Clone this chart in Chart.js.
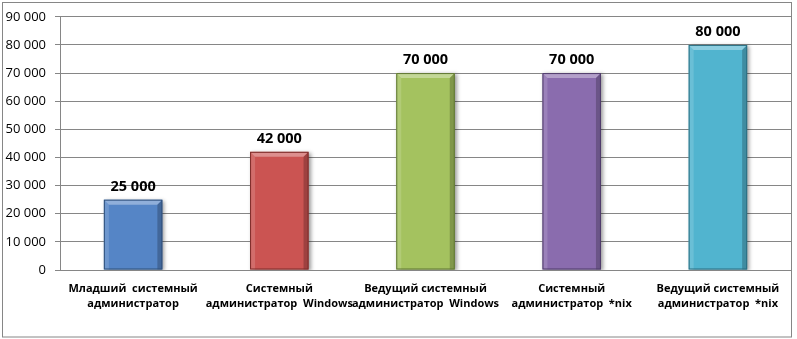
<!DOCTYPE html>
<html>
<head>
<meta charset="utf-8">
<script src="https://cdn.jsdelivr.net/npm/chart.js@4"></script>
<style>
  html, body { margin: 0; padding: 0; background: #fff; }
  #wrap { width: 797px; height: 339px; }
</style>
</head>
<body>
<div id="wrap"><canvas id="salaryChart"></canvas></div>
<script>
'use strict';

const categories = [
    ["Младший  системный", "администратор"],
    ["Системный", "администратор  Windows"],
    ["Ведущий системный", "администратор  Windows"],
    ["Системный", "администратор  *nix"],
    ["Ведущий системный", "администратор  *nix"],
];
const salaries = [25000, 42000, 70000, 70000, 80000];
const barColors = ["#5585c6", "#cb5452", "#a4c25f", "#8a6cae", "#51b4cf"];
const edgeColors = ["#2f507c", "#7e2c2a", "#5f7632", "#4f3b6a", "#2a6f82"];
const yTickMin = 0;
const yTickMax = 90000;
const yTickStep = 10000;

const fmt = (v) => String(v).replace(/\B(?=(\d{3})+(?!\d))/g, " ");

const frame = {
    id: "frame",
    beforeDraw(chart) {
        const c = chart.ctx;
        c.save();
        c.fillStyle = "#fff";
        c.fillRect(0, 0, chart.width, chart.height);
        c.strokeStyle = "#868686";
        c.lineWidth = 1;
        c.strokeRect(2.5, 2.5, 789, 334.5);
        c.restore();
    },
};

const barShadow = {
    id: "barShadow",
    beforeDatasetsDraw(chart) {
        const c = chart.ctx;
        c.save();
        c.shadowColor = "rgba(0,0,0,0.4)";
        c.shadowBlur = 4;
        c.shadowOffsetX = 2;
        c.shadowOffsetY = 1;
    },
    afterDatasetsDraw(chart) {
        const c = chart.ctx;
        c.restore();
        // bevel and value labels
        const meta = chart.getDatasetMeta(0);
        meta.data.forEach((bar, i) => {
            const l = bar.x - bar.width / 2;
            const r = bar.x + bar.width / 2;
            const t = bar.y;
            const b = bar.base;
            const e = 5;
            c.save();
            c.fillStyle = "rgba(255,255,255,0.35)";
            c.beginPath();
            c.moveTo(l, t); c.lineTo(r, t); c.lineTo(r - e, t + e); c.lineTo(l + e, t + e);
            c.closePath(); c.fill();
            c.fillStyle = "rgba(255,255,255,0.15)";
            c.beginPath();
            c.moveTo(l, t); c.lineTo(l + e, t + e); c.lineTo(l + e, b); c.lineTo(l, b);
            c.closePath(); c.fill();
            c.fillStyle = "rgba(0,0,0,0.22)";
            c.beginPath();
            c.moveTo(r, t); c.lineTo(r - e, t + e); c.lineTo(r - e, b); c.lineTo(r, b);
            c.closePath(); c.fill();
            c.strokeStyle = edgeColors[i];
            c.lineWidth = 1;
            c.strokeRect(l + 0.5, t + 0.5, r - l - 1, b - t - 1);
            c.fillStyle = "#000";
            c.font = "bold 14.5px 'Open Sans'";
            c.textAlign = "center";
            c.textBaseline = "alphabetic";
            c.fillText(fmt(salaries[i]), bar.x, t - 9);
            c.restore();
        });
    },
};

const ctx = document.getElementById("salaryChart").getContext("2d");

new Chart(ctx, {
    type: "bar",
    data: {
        labels: categories,
        datasets: [
            {
                data: salaries,
                backgroundColor: barColors,
                borderWidth: 0,
                categoryPercentage: 1,
                barPercentage: 0.4,
            },
        ],
    },
    options: {
        responsive: true,
        maintainAspectRatio: false,
        animation: false,
        events: [],
        layout: {
            padding: { left: 0, right: 6, top: 15, bottom: 0 },
        },
        scales: {
            x: {
                grid: { display: false, drawTicks: false },
                border: { display: true, color: "#868686", width: 1 },
                ticks: {
                    color: "#000",
                    font: { family: "Open Sans", size: 11, weight: "bold", lineHeight: 1.36 },
                    padding: 11,
                    maxRotation: 0,
                    autoSkip: false,
                },
                afterFit: (s) => { s.height = 69; },
            },
            y: {
                min: yTickMin,
                max: yTickMax,
                grid: { color: "#868686", lineWidth: 1, tickLength: 5 },
                border: { display: true, color: "#868686", width: 1 },
                ticks: {
                    stepSize: yTickStep,
                    color: "#000",
                    font: { family: "Open Sans", size: 13 },
                    padding: 9,
                    callback: (v) => fmt(v),
                },
                afterFit: (s) => { s.width = 60; },
            },
        },
        plugins: {
            legend: { display: false },
            tooltip: { enabled: false },
        },
    },
    plugins: [frame, barShadow],
});
</script>
</body>
</html>
